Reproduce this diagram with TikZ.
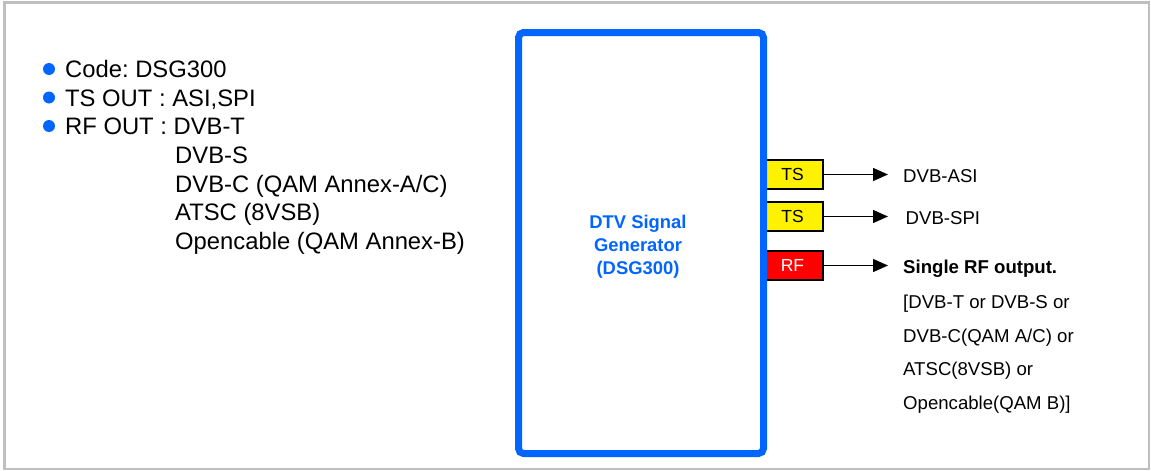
\documentclass[tikz,border=0pt]{standalone}
\usepackage{fontspec}
\setmainfont{Liberation Sans}
\frenchspacing
\usetikzlibrary{arrows.meta}
\definecolor{dsgblue}{HTML}{0066FF}
\definecolor{framegray}{HTML}{BFBFBF}
\tikzset{
  lefttxt/.style={anchor=base west, inner sep=0pt, font=\fontsize{23.8}{27}\selectfont},
  righttxt/.style={anchor=base west, inner sep=0pt, font=\fontsize{18.6}{21}\selectfont},
  centertxt/.style={anchor=base, inner sep=0pt, text=dsgblue, font=\fontsize{18.4}{21}\selectfont\bfseries},
  bullet/.style={circle, fill=dsgblue, inner sep=0pt, minimum size=12pt},
  port/.style={draw=black, line width=1.6pt, minimum width=61pt, minimum height=29pt, inner sep=0pt, font=\fontsize{17.5}{20}\selectfont},
  outarrow/.style={line width=1.3pt, -{Triangle[length=15pt,width=13pt]}},
}
\begin{document}
\begin{tikzpicture}[x=1pt,y=-1pt]
\useasboundingbox (0,0) rectangle (1151,471);
\draw[framegray, line width=2.5pt] (4.5,2.5) rectangle (1149,469);

% left list
\node[bullet] (b1) at (49,69) {};
\node[bullet] (b2) at (49,97.5) {};
\node[bullet] (b3) at (49,126) {};
\node[lefttxt] (l1) at (65,77.5) {Code: DSG300};
\node[lefttxt] (l2) at (65,106) {TS OUT : ASI,SPI};
\node[lefttxt] (l3) at (65,134.5) {RF OUT : DVB-T};
\node[lefttxt] (l4) at (175,163.5) {DVB-S};
\node[lefttxt] (l5) at (175,192) {DVB-C (QAM Annex-A/C)};
\node[lefttxt] (l6) at (175,220.5) {ATSC (8VSB)};
\node[lefttxt] (l7) at (175,249) {Opencable (QAM Annex-B)};

% ports (behind blue box)
\node[port, fill=yellow] (ts1) at (792.5,174.5) {TS};
\node[port, fill=yellow] (ts2) at (792.5,216.5) {TS};
\node[port, fill=red, text=white] (rf) at (792.5,265.5) {RF};

% main box
\draw[dsgblue, line width=7pt, rounded corners=5pt, fill=white] (518.5,32.5) rectangle (763.5,453.5);
\node[centertxt] (c1) at (638,228) {DTV Signal};
\node[centertxt] (c2) at (638,251) {Generator};
\node[centertxt] (c3) at (638,274) {(DSG300)};

% arrows
\coordinate (e1) at (888,174.5);
\coordinate (e2) at (888,216.5);
\coordinate (e3) at (888,265.5);
\draw[outarrow] (ts1.east) -- (e1);
\draw[outarrow] (ts2.east) -- (e2);
\draw[outarrow] (rf.east) -- (e3);

% right labels
\node[righttxt] (asi) at (903,182.6) {DVB-ASI};
\node[righttxt] (spi) at (905.5,224.6) {DVB-SPI};
\node[righttxt, font=\fontsize{18.6}{21}\selectfont\bfseries] (r1) at (903,273.6) {Single RF output.};
\node[righttxt] (r2) at (903,308.6) {[DVB-T or DVB-S or};
\node[righttxt] (r3) at (903,342.1) {DVB-C(QAM A/C) or};
\node[righttxt] (r4) at (903,375.6) {ATSC(8VSB) or};
\node[righttxt] (r5) at (903,409.1) {Opencable(QAM B)]};
\end{tikzpicture}
\end{document}
